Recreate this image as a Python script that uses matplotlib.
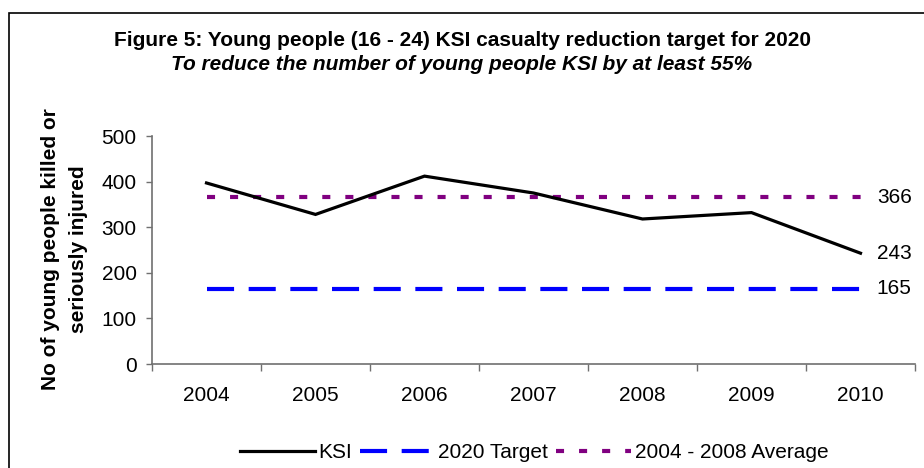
import numpy as np
import matplotlib
matplotlib.use('Agg')
import matplotlib.pyplot as plt
from matplotlib.patches import Rectangle

plt.rcParams['font.family'] = ['Liberation Sans', 'DejaVu Sans']
plt.rcParams['lines.scale_dashes'] = False

# data
years = ['2004', '2005', '2006', '2007', '2008', '2009', '2010']
ksi = [397, 328, 412, 375, 318, 332, 243]
target = [165] * 7
average = [366] * 7
yticks = [0, 100, 200, 300, 400, 500]

fig = plt.figure(figsize=(9.24, 4.68), dpi=100)
ax = fig.add_axes([152/924, 1-364/468, (915-152)/924, (364-136)/468])

x = np.arange(len(years))
l1, = ax.plot(x, ksi, color='black', lw=2.3, solid_joinstyle='miter', label='KSI', zorder=5)
l2, = ax.plot(x, target, color='#0000ff', lw=3.0, dashes=(19.5, 10.5), label='2020 Target')
l3, = ax.plot(x, average, color='#800080', lw=3.0, dashes=(5.8, 10.8), label='2004 - 2008 Average')

# end labels
for v in [average[-1], ksi[-1], target[-1]]:
    ax.text(x[-1] + 0.15, v, '%d' % v, fontsize=15, va='center', ha='left')

ax.set_xlim(-0.5, 6.5)
ax.set_ylim(0, 500)
ax.set_yticks(yticks)
ax.tick_params(axis='y', direction='out', length=4, width=1, color='#707070', pad=7, labelsize=15)
ax.set_xticks(np.arange(-0.5, 7, 1))
ax.set_xticklabels([])
ax.tick_params(axis='x', which='major', direction='out', length=5, width=1, color='#707070')
ax.set_xticks(x, minor=True)
ax.set_xticklabels(years, minor=True)
ax.tick_params(axis='x', which='minor', length=0, pad=16, labelsize=15)

for s in ['top', 'right']:
    ax.spines[s].set_visible(False)
for s in ['left', 'bottom']:
    ax.spines[s].set_color('#707070')
    ax.spines[s].set_linewidth(1.2)
ax.set_facecolor('none')

fig.text(65/924, 1-249/468, 'No of young people killed or\nseriously injured', rotation=90,
         ha='center', va='center', multialignment='center', fontsize=15, fontweight='bold',
         linespacing=1.6)

fig.text(0.5, 1-41/468, 'Figure 5: Young people (16 - 24) KSI casualty reduction target for 2020',
         ha='center', va='center', fontsize=15, fontweight='bold')
fig.text(0.5, 1-64/468, 'To reduce the number of young people KSI by at least 55%',
         ha='center', va='center', fontsize=15, fontweight='bold', style='italic')

fig.legend(handles=[l1, l2, l3], loc='center', bbox_to_anchor=(534/924, 1-453/468), ncol=3,
           frameon=False, fontsize=15, handlelength=3.6, handletextpad=0.15, columnspacing=0.4)

# outer chart border
fig.patches.append(Rectangle((8.5/924, -0.5), 2, 1.5 - 12.5/468, transform=fig.transFigure,
                             fill=False, edgecolor='black', lw=1.2))

fig.savefig('out.png', dpi=100)
